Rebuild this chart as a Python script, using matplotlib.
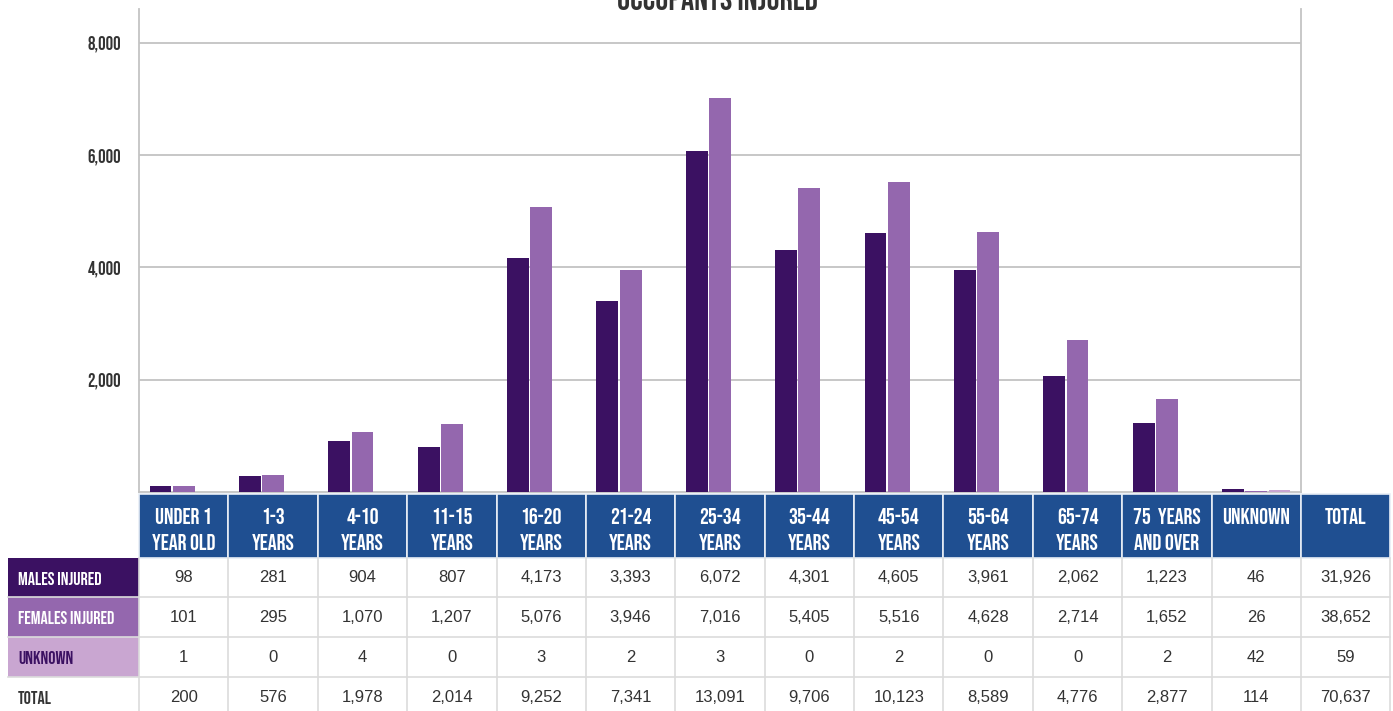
import matplotlib.pyplot as plt
from matplotlib.patches import Rectangle
import numpy as np

categories = ["UNDER 1\nYEAR OLD", "1-3\nYEARS", "4-10\nYEARS", "11-15\nYEARS", "16-20\nYEARS",
              "21-24\nYEARS", "25-34\nYEARS", "35-44\nYEARS", "45-54\nYEARS", "55-64\nYEARS",
              "65-74\nYEARS", "75  YEARS\nAND OVER", "UNKNOWN\n"]
males = [98, 281, 904, 807, 4173, 3393, 6072, 4301, 4605, 3961, 2062, 1223, 46]
females = [101, 295, 1070, 1207, 5076, 3946, 7016, 5405, 5516, 4628, 2714, 1652, 26]
unknown = [1, 0, 4, 0, 3, 2, 3, 0, 2, 0, 0, 2, 42]
row_labels = ["MALES INJURED", "FEMALES INJURED", "UNKNOWN", "TOTAL"]
y_ticks = [2000, 4000, 6000, 8000]

c_male = '#3b1162'
c_female = '#9467ae'
c_unk = '#c9a6d1'
c_head = '#1f4f91'
txt_dark = '#333333'
cond = ['Bebas Neue', 'DejaVu Sans']
plain = ['Liberation Sans', 'DejaVu Sans']

W, H = 1393, 711
fig = plt.figure(figsize=(W / 100, H / 100), dpi=100)

# bar area (pixel layout)
x0, x1, ytop, ybot = 139, 1301, 9, 492
ax = fig.add_axes([x0 / W, (H - ybot) / H, (x1 - x0) / W, (ybot - ytop) / H])
n = len(categories)
x = np.arange(n)
bw = 0.245
ax.bar(x - 0.26, males, bw, color=c_male, zorder=3)
ax.bar(x, females, bw, color=c_female, zorder=3)
ax.bar(x + 0.26, unknown, bw, color=c_unk, zorder=3)
ax.set_xlim(-0.5, n - 0.5)
ax.set_ylim(0, 8600)
ax.set_yticks(y_ticks)
ax.set_yticklabels([f"{v:,}" for v in y_ticks], family=cond, fontsize=13.5, color=txt_dark)
ax.set_xticks([])
ax.tick_params(axis='y', length=0, pad=13)
ax.yaxis.grid(True, color='#bdbdbd', linewidth=1.2, zorder=0)
for s in ['left', 'right', 'bottom']:
    ax.spines[s].set_color('#c4c4c4')
    ax.spines[s].set_linewidth(1.3)
ax.spines['top'].set_visible(False)

fig.text(717 / W, 1 - 10 / H, "OCCUPANTS INJURED", ha='center', va='baseline',
         family=cond, fontsize=23.5, color=txt_dark)

# table drawn in pixel coordinates
tab = fig.add_axes([0, 0, 1, 1])
tab.set_xlim(0, W)
tab.set_ylim(H, 0)
tab.axis('off')

cw = (x1 - x0) / n
col_edges = [x0 + i * cw for i in range(n + 2)]
head_top, head_bot = 494, 558
row_edges = [558, 597, 637, 677, 717]
lab_x0 = 8

totals = [m + f + u for m, f, u in zip(males, females, unknown)]
rows = [males + [sum(males)], females + [sum(females)], unknown + [sum(unknown)],
        totals + [sum(totals)]]
heads = categories + ["TOTAL\n"]

# header cells
for i, h in enumerate(heads):
    xa, xb = col_edges[i], col_edges[i + 1]
    tab.add_patch(Rectangle((xa, head_top), xb - xa, head_bot - head_top,
                            facecolor=c_head, edgecolor='#e8eef6', linewidth=1.2))
    lines = h.split("\n")
    tab.text((xa + xb) / 2, 516, lines[0], ha='center', va='center', family=cond,
             fontsize=16, color='white')
    if lines[1]:
        tab.text((xa + xb) / 2, 542, lines[1], ha='center', va='center', family=cond,
                 fontsize=16, color='white')

# row label cells
lab_fc = [c_male, c_female, c_unk, 'white']
lab_tc = ['white', 'white', c_male, txt_dark]
for r, lab in enumerate(row_labels):
    ya, yb = row_edges[r], row_edges[r + 1]
    tab.add_patch(Rectangle((lab_x0, ya), x0 - lab_x0, yb - ya, facecolor=lab_fc[r],
                            edgecolor='none'))
    yc = (ya + yb) / 2 if r < 3 else 697
    tab.text(lab_x0 + 10, yc + 1, lab, ha='left', va='center',
             family=cond, fontsize=13, color=lab_tc[r])

# body cells
for r, vals in enumerate(rows):
    ya, yb = row_edges[r], row_edges[r + 1]
    yc = (ya + yb) / 2 if r < 3 else 697
    for i, v in enumerate(vals):
        xa, xb = col_edges[i], col_edges[i + 1]
        tab.text((xa + xb) / 2, yc, f"{v:,}", ha='center', va='center',
                 family=plain, fontsize=12, color=txt_dark)

# table grid lines
for r in range(1, 4):
    tab.plot([lab_x0, col_edges[-1]], [row_edges[r], row_edges[r]], color='#dcdcdc',
             linewidth=1.2, zorder=1)
for e in col_edges:
    tab.plot([e, e], [head_bot, H], color='#dcdcdc', linewidth=1.2, zorder=1)

fig.savefig('out.png', dpi=100)
